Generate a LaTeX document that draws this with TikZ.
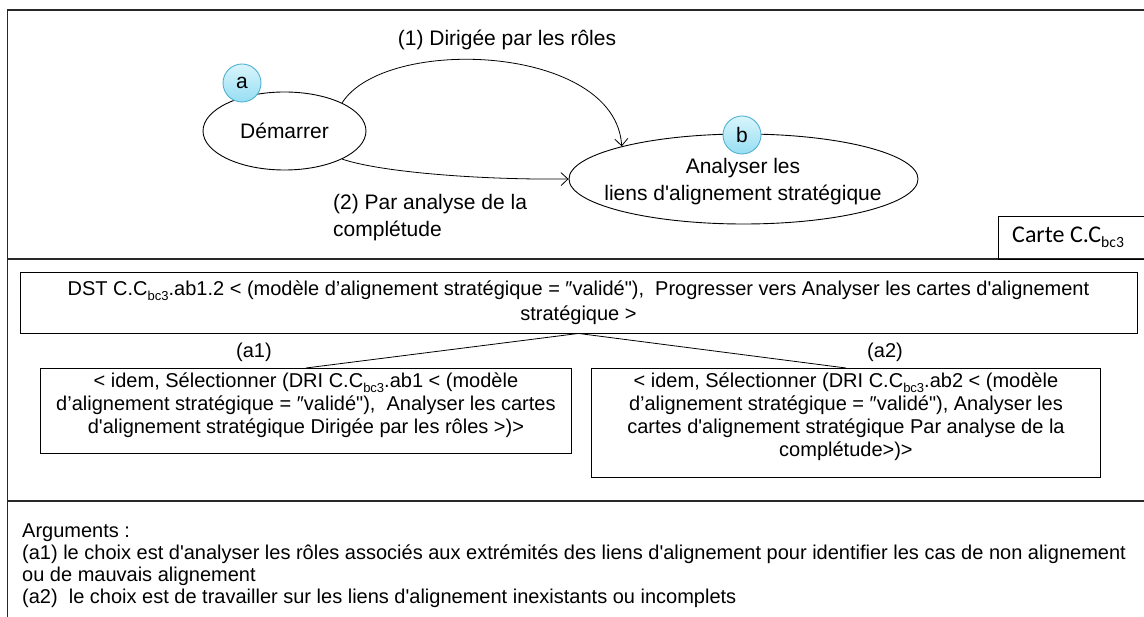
\documentclass[tikz,border=0pt]{standalone}
\usepackage{fontspec}
\usepackage{graphicx}
\newfontfamily\arialf{Liberation Sans}
\newfontfamily\calib{Carlito}
\usetikzlibrary{arrows.meta,shapes.geometric}
\definecolor{tagtop}{RGB}{218,245,253}
\definecolor{tagbot}{RGB}{150,222,242}
\definecolor{tagedge}{RGB}{80,178,210}
\definecolor{frameclr}{RGB}{40,40,40}
\newcommand\subtxt[1]{\raisebox{-0.22em}{\scalebox{0.65}{#1}}}
\begin{document}
\begin{tikzpicture}[x=1pt,y=-1pt,
  frameline/.style={line width=1.3pt, draw=frameclr},
  box/.style={draw, line width=0.9pt, rectangle, inner sep=0pt},
  oval/.style={draw, line width=0.9pt, ellipse, inner sep=0pt},
  tag/.style={circle, draw=tagedge, line width=0.9pt, top color=tagtop, bottom color=tagbot,
    minimum size=38pt, inner sep=0pt, font=\arialf\fontsize{21}{25}\selectfont},
  arr/.style={-{Straight Barb[length=7pt,width=13pt]}, line width=0.8pt},
  txtA/.style={font=\arialf\fontsize{21}{27}\selectfont, align=center, inner sep=0pt},
  txtB/.style={font=\arialf\fontsize{20}{23}\selectfont, align=center, inner sep=0pt},
  txtC/.style={font=\arialf\fontsize{20}{22}\selectfont, align=left, inner sep=0pt},
]
\useasboundingbox (0,0) rectangle (1144,617);
% frame
\draw[frameline] (1150,10) -- (7.5,10) -- (7.5,625);
\draw[frameline] (7.5,259) -- (1150,259);
\draw[frameline] (7.5,501) -- (1150,501);

% ---- top map
\node[oval, minimum width=163, minimum height=78, font=\arialf\fontsize{21}{25}\selectfont] (dem) at (284.5,131) {Démarrer};
\node[oval, minimum width=349, minimum height=90] (anb) at (743.5,179) {};
\node[txtA] (anbt) at (743,182) {Analyser les\\liens d'alignement stratégique};
\node[tag] (ta) at (242,83) {a};
\node[tag] (tb) at (742,135) {b};

\draw[arr] (dem.26) .. controls +(43,-68) and +(-6,-102) .. (anb.165);
\draw[arr] (dem.-26) .. controls +(38,13) and +(-89,1) .. (anb.west);

\node[txtA] (l1) at (507,40) {(1) Dirigée par les rôles};
\node[txtA, align=left, anchor=west] (l2) at (333,217.5) {(2) Par analyse de la\\complétude};

\node[box, anchor=north west, minimum width=160, minimum height=43] (carte) at (998,216) {};
\node[font=\calib\fontsize{24}{28}\selectfont, anchor=west, inner sep=0pt] (cartet) at (1012,237) {Carte C.C\subtxt{bc3}};

% ---- section 2
\node[box, minimum width=1117, minimum height=61] (dst) at (578.5,302.5) {};
\node[txtB, font=\arialf\fontsize{20}{25}\selectfont] (dstt) at (578.5,303) {DST C.C\subtxt{bc3}.ab1.2 < (modèle d’alignement stratégique = ″validé"),~ Progresser vers Analyser les cartes d'alignement\\stratégique >};

\node[box, anchor=north west, minimum width=531, minimum height=85] (a1) at (40,368) {};
\node[txtB, anchor=north, yshift=-5pt] (a1t) at (a1.north) {< idem, Sélectionner (DRI C.C\subtxt{bc3}.ab1 < (modèle\\d’alignement stratégique = ″validé"),~ Analyser les cartes\\d'alignement stratégique Dirigée par les rôles >)>};

\node[box, anchor=north west, minimum width=509, minimum height=109] (a2) at (591,368) {};
\node[txtB, anchor=north, yshift=-5pt] (a2t) at (a2.north) {< idem, Sélectionner (DRI C.C\subtxt{bc3}.ab2 < (modèle\\d’alignement stratégique = ″validé"), Analyser les\\cartes d'alignement stratégique Par analyse de la\\complétude>)>};

\draw[line width=0.8pt] (dst.south) -- (a1.north);
\draw[line width=0.8pt] (dst.south) -- (a2.north);
\node[txtB] (la1) at (254,352) {(a1)};
\node[txtB] (la2) at (885,352) {(a2)};

% ---- section 3
\node[txtC, anchor=north west] (args) at (22,524) {Arguments :\\(a1) le choix est d'analyser les rôles associés aux extrémités des liens d'alignement pour identifier les cas de non alignement\\ou de mauvais alignement\\(a2)~ le choix est de travailler sur les liens d'alignement inexistants ou incomplets};
\end{tikzpicture}
\end{document}
